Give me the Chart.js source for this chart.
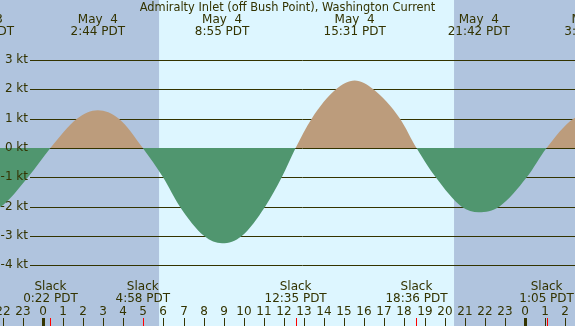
<!DOCTYPE html>
<html>
<head>
<meta charset="utf-8">
<script src="https://cdn.jsdelivr.net/npm/chart.js@4.4.1/dist/chart.umd.min.js"></script>
<style>
  body { margin: 0; background: #fff; }
  #wrap { width: 575px; height: 326px; }
</style>
</head>
<body>
<div id="wrap"><canvas id="currentChart" width="575" height="326"></canvas></div>
<script>
// hours counted from May 4 0:00 PDT, speeds in knots
const curveHours = [-2.99, -2.14, -0.75, 0.37, 1.69, 2.73, 3.78, 4.97, 5.98, 6.82, 8.03, 8.92, 9.9, 11.06, 11.89,
    12.58, 13.38, 14.59, 15.52, 16.45, 17.78, 18.6, 19.56, 20.85, 21.7, 22.72, 24.09, 25.08, 26.41, 27.32];
const curveKnots = [-2.15, -2.02, -1.0, 0, 1.0, 1.29, 1.0, 0, -1.0, -2.0, -3.0, -3.25, -3.0, -2.0, -1.0,
    0, 1.0, 2.0, 2.3, 2.0, 1.0, 0, -1.0, -2.0, -2.19, -2.0, -1.0, 0, 1.0, 1.15];

// max flood / ebb labels along the top
const peakHours = [-2.99, 2.73, 8.92, 15.52, 21.7, 27.32];
const peakDates = ['May  3', 'May  4', 'May  4', 'May  4', 'May  4', 'May  5'];
const peakTimes = ['21:01 PDT', '2:44 PDT', '8:55 PDT', '15:31 PDT', '21:42 PDT', '3:19 PDT'];

// slack water labels along the bottom
const slackHours = [0.37, 4.97, 12.58, 18.6, 25.08];
const slackTimes = ['0:22 PDT', '4:58 PDT', '12:35 PDT', '18:36 PDT', '1:05 PDT'];

// daylight
const sunrise = 5.78;
const sunset = 20.47;

const speedTicks = [3, 2, 1, 0, -1, -2, -3, -4];
const hourTicks = [-2, -1, 0, 1, 2, 3, 4, 5, 6, 7, 8, 9, 10, 11, 12, 13, 14, 15, 16, 17, 18, 19, 20, 21, 22, 23, 24, 25, 26];
const hourLabels = ['22', '23', '0', '1', '2', '3', '4', '5', '6', '7', '8', '9', '10', '11', '12', '13',
    '14', '15', '16', '17', '18', '19', '20', '21', '22', '23', '0', '1', '2'];

const TITLE = 'Admiralty Inlet (off Bush Point), Washington Current';
const FONT = '12px "DejaVu Sans", sans-serif';
const INK = '#333300';

const tidePlugin = {
    id: 'tidePlugin',
    beforeDraw(chart) {
        const c = chart.ctx;
        const xs = chart.scales.x;
        const w = chart.width, h = chart.height;
        c.save();
        c.fillStyle = '#b0c4de';
        c.fillRect(0, 0, w, h);
        const x0 = xs.getPixelForValue(sunrise);
        const x1 = xs.getPixelForValue(sunset);
        c.fillStyle = '#ddf6ff';
        c.fillRect(x0, 0, x1 - x0, h);
        c.restore();
    },
    beforeDatasetsDraw(chart) {
        const c = chart.ctx;
        const ys = chart.scales.y;
        c.save();
        c.strokeStyle = INK;
        c.lineWidth = 1;
        speedTicks.forEach(v => {
            const y = Math.round(ys.getPixelForValue(v)) + 0.5;
            c.beginPath();
            c.moveTo(30, y);
            c.lineTo(chart.width, y);
            c.stroke();
        });
        c.restore();
    },
    afterDatasetsDraw(chart) {
        const c = chart.ctx;
        const xs = chart.scales.x;
        const ys = chart.scales.y;
        const h = chart.height;
        c.save();
        c.font = FONT;
        c.fillStyle = INK;
        c.textBaseline = 'middle';

        // speed labels
        c.textAlign = 'right';
        speedTicks.forEach(v => {
            c.fillText(v + ' kt', 28, ys.getPixelForValue(v));
        });

        // title and peak labels
        c.textAlign = 'center';
        c.font = '11.4px "DejaVu Sans", sans-serif';
        c.fillText(TITLE, 287.5, 8);
        c.font = FONT;
        peakHours.forEach((t, i) => {
            const x = xs.getPixelForValue(t);
            c.fillText(peakDates[i], x, 20);
            c.fillText(peakTimes[i], x, 32);
        });

        // slack labels
        slackHours.forEach((t, i) => {
            const x = xs.getPixelForValue(t);
            c.fillText('Slack', x, 287);
            c.fillText(slackTimes[i], x, 299);
        });

        // hour labels and ticks
        hourTicks.forEach((t, i) => {
            const x = Math.round(xs.getPixelForValue(t));
            c.fillText(hourLabels[i], x, 312);
            if (hourLabels[i] === '0') {
                c.fillRect(x - 1, 318, 3, h - 318);
            } else {
                c.fillRect(x, 318, 1, h - 318);
            }
        });
        c.fillStyle = '#ff0000';
        slackHours.forEach(t => {
            const x = Math.round(xs.getPixelForValue(t));
            c.fillRect(x, 318, 1, h - 318);
        });
        c.restore();
    }
};

const ctx = document.getElementById('currentChart');

const currentChart = new Chart(ctx, {
    type: 'line',
    data: {
        datasets: [{
            data: curveHours.map((t, i) => ({ x: t, y: curveKnots[i] })),
            borderWidth: 0,
            borderColor: 'rgba(0,0,0,0)',
            pointRadius: 0,
            cubicInterpolationMode: 'monotone',
            fill: {
                target: { value: 0 },
                above: '#bc9c7c',
                below: '#50966f'
            }
        }]
    },
    options: {
        responsive: false,
        animation: false,
        devicePixelRatio: 1,
        layout: { padding: 0 },
        plugins: {
            legend: { display: false },
            tooltip: { enabled: false }
        },
        scales: {
            x: { type: 'linear', min: -2.141, max: 26.494, display: false },
            y: { min: -6.069, max: 5.046, display: false }
        }
    },
    plugins: [tidePlugin]
});
</script>
</body>
</html>
